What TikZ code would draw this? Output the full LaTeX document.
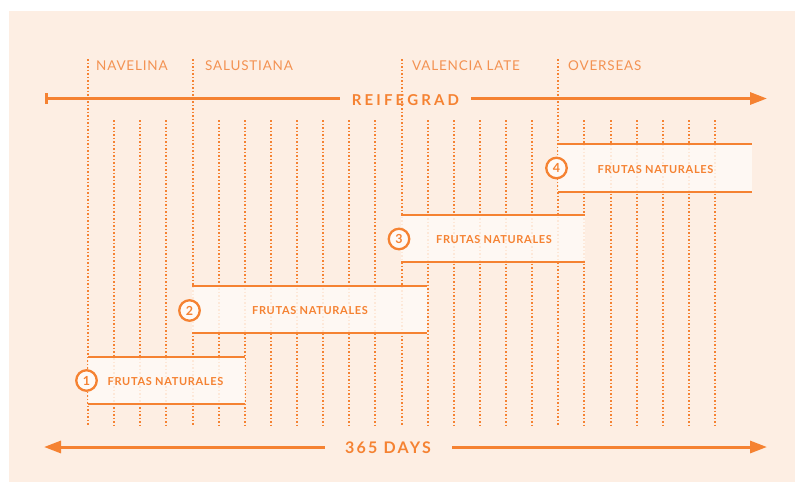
\documentclass[tikz,border=0pt]{standalone}
\usepackage{fontspec}
\setmainfont{Lato}
\usetikzlibrary{arrows.meta}
\definecolor{bgc}{RGB}{253,238,227}
\definecolor{orng}{RGB}{245,130,50}
\definecolor{lorng}{RGB}{243,146,82}
\definecolor{barfill}{RGB}{255,250,246}
\tikzset{
  gridline/.style={orng, line width=2pt, dash pattern=on 1.8pt off 1.7pt},
  barline/.style={orng, line width=2.4pt},
  barbody/.style={barfill, opacity=0.85},
  variety/.style={anchor=base west, text=lorng, inner sep=0pt,
    font=\fontsize{13.5}{13.5}\selectfont\addfontfeature{LetterSpace=6}},
  fruta/.style={anchor=center, text=orng, inner sep=0pt,
    font=\bfseries\fontsize{11}{11}\selectfont\addfontfeature{LetterSpace=6}},
  num/.style={circle, draw=orng, line width=2.3pt, fill=barfill, text=orng,
    minimum size=20.5pt, inner sep=0pt, font=\bfseries\fontsize{12.5}{12.5}\selectfont},
  bigtxt/.style={anchor=center, text=orng, inner sep=0pt,
    font=\bfseries\fontsize{15}{15}\selectfont\addfontfeature{LetterSpace=21}},
  axisline/.style={orng, line width=3pt},
}
\begin{document}
\begin{tikzpicture}[x=1pt,y=-1pt]
\useasboundingbox (0,0) rectangle (795,482);
\fill[white] (0,0) rectangle (795,482);
\fill[bgc] (9,11) rectangle (795,482);
% grid of dotted lines
\foreach \i in {0,...,24}{
  \pgfmathsetmacro\xx{round(88+26.125*\i)}
  \ifnum\i=0 \def\ytop{59}\else\ifnum\i=4 \def\ytop{59}\else\ifnum\i=12 \def\ytop{59}\else\ifnum\i=18 \def\ytop{59}\else\def\ytop{120}\fi\fi\fi\fi
  \draw[gridline] (\xx,\ytop) -- (\xx,425);
}
% variety labels
\node[variety] (nav) at (96,70.5) {NAVELINA};
\node[variety] (sal) at (205,70.5) {SALUSTIANA};
\node[variety] (val) at (412,70.5) {VALENCIA LATE};
\node[variety] (ove) at (568,70.5) {OVERSEAS};
% top axis
\coordinate (rs) at (45,98.5);
\coordinate (re) at (767,98.5);
\node[bigtxt] (reif) at (405.5,100) {REIFEGRAD};
\path (reif.west) ++(-12,0) coordinate (rl);
\path (reif.east) ++(12,0) coordinate (rr);
\draw[axisline, {Bar[width=11pt,line width=2.5pt]}-] (rs) -- (rl |- rs);
\draw[axisline, -{Triangle[length=17pt,width=12pt]}] (rr |- re) -- (re);
% bars
\fill[barbody] (88,357) rectangle (245,404);
\draw[barline] (88,357) -- (245,357) (88,404) -- (245,404);
\fill[barbody] (192,286) rectangle (427,333);
\draw[barline] (192,286) -- (427,286) (192,333) -- (427,333);
\fill[barbody] (401,215) rectangle (585,262);
\draw[barline] (401,215) -- (585,215) (401,262) -- (585,262);
\fill[barbody] (558,144) rectangle (752,192);
\draw[barline] (558,144) -- (752,144) (558,192) -- (752,192);
\node[num] (n1) at (86.5,380.5) {1};
\node[num] (n2) at (189.5,310.5) {2};
\node[num] (n3) at (399,239) {3};
\node[num] (n4) at (556.5,168) {4};
\node[fruta] (f1) at (165.5,382) {FRUTAS NATURALES};
\node[fruta] (f2) at (310,311) {FRUTAS NATURALES};
\node[fruta] (f3) at (494,240) {FRUTAS NATURALES};
\node[fruta] (f4) at (655.5,170) {FRUTAS NATURALES};
% bottom axis
\coordinate (ls) at (44,447);
\coordinate (le) at (767,447);
\node[bigtxt, font=\bfseries\fontsize{16}{16}\selectfont\addfontfeature{LetterSpace=14}] (days) at (388,448) {365 DAYS};
\path (days.west) ++(-20,0) coordinate (dl);
\path (days.east) ++(21,0) coordinate (dr);
\draw[axisline, {Triangle[length=17pt,width=12pt]}-] (ls) -- (dl |- ls);
\draw[axisline, -{Triangle[length=17pt,width=12pt]}] (dr |- le) -- (le);
\end{tikzpicture}
\end{document}
